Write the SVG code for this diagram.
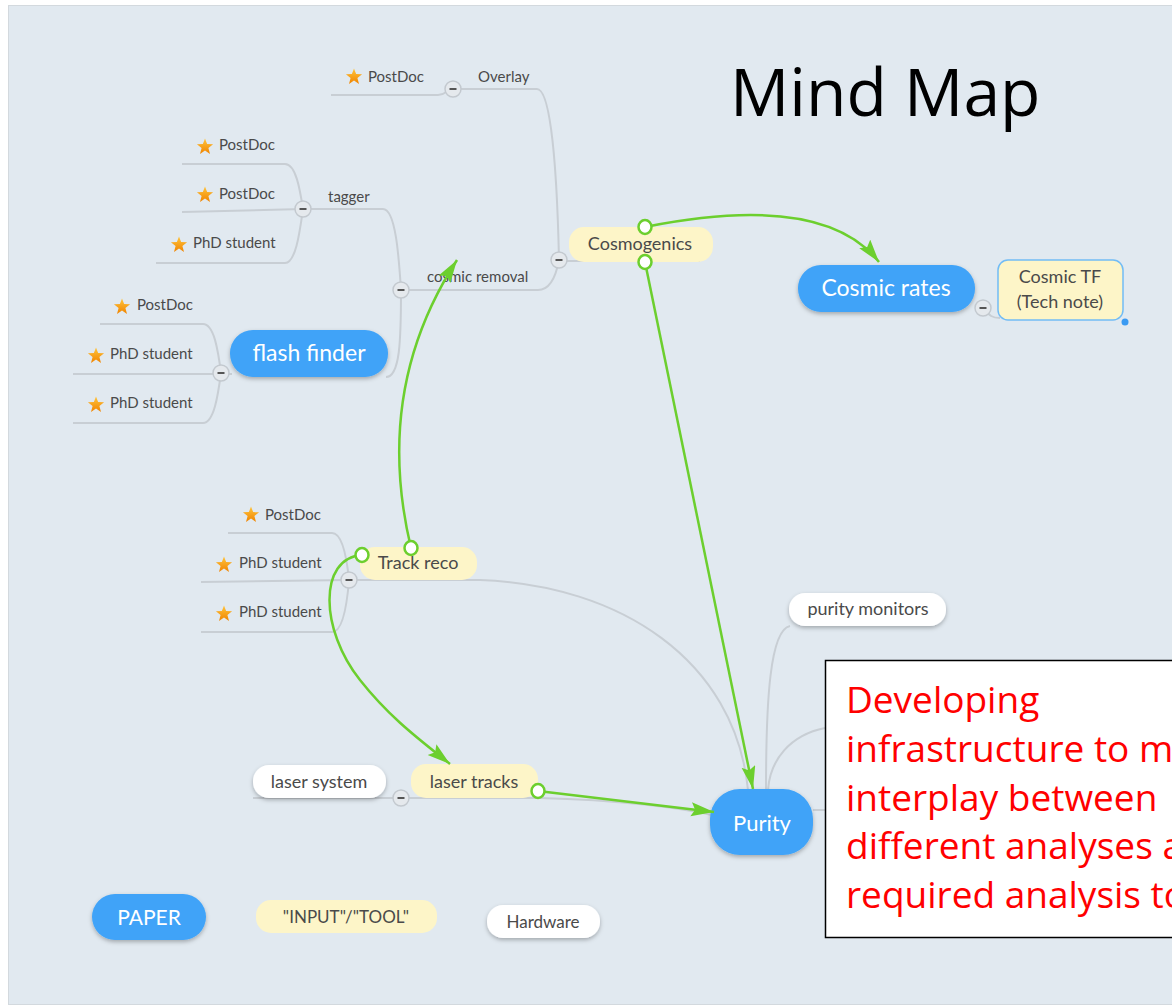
<svg xmlns="http://www.w3.org/2000/svg" xmlns:xlink="http://www.w3.org/1999/xlink" width="1172" height="1005" viewBox="0 0 1172 1005">
  <defs>
    <style>
      .line { fill: none; stroke: #c8ced4; stroke-width: 2; }
      .link { fill: none; stroke: #6ccf2e; stroke-width: 2.5; }
      .port { fill: #ffffff; stroke: #6ccf2e; stroke-width: 2.5; }
      .lbl { font-family: Lato, "Noto Sans", sans-serif; font-size: 15px; fill: #4a4a4a; }
      .ntext { font-family: Lato, "Noto Sans", sans-serif; font-size: 18px; fill: #4a4a4a; text-anchor: middle; }
      .btext { font-family: Lato, "Noto Sans", sans-serif; font-size: 23px; fill: #ffffff; text-anchor: middle; }
      .yellow { fill: #fdf5c8; }
      .white { fill: #ffffff; filter: url(#shadow); }
      .blue { fill: #3fa3f8; filter: url(#shadow); }
      .note { font-family: "Open Sans", "Liberation Sans", sans-serif; font-size: 37px; fill: #ff0000; }
    </style>
    <filter id="shadow" x="-20%" y="-30%" width="140%" height="170%">
      <feDropShadow dx="0" dy="2" stdDeviation="2" flood-color="#000000" flood-opacity="0.28"/>
    </filter>
    <linearGradient id="starFill" x1="0" y1="0" x2="0" y2="1">
      <stop offset="0" stop-color="#ffc53d"/>
      <stop offset="1" stop-color="#f08400"/>
    </linearGradient>
    <path id="star" d="M0,-8.5 L2.12,-2.91 L8.08,-2.63 L3.42,1.11 L5,6.88 L0,3.6 L-5,6.88 L-3.42,1.11 L-8.08,-2.63 L-2.12,-2.91 Z" fill="url(#starFill)"/>
    <g id="fold">
      <circle r="8" fill="#e5e9ed" stroke="#c3c9cf" stroke-width="1.5"/>
      <line x1="-3.5" y1="0" x2="3.5" y2="0" stroke="#555" stroke-width="2"/>
    </g>
    <marker id="arrow" markerUnits="userSpaceOnUse" markerWidth="26" markerHeight="16" refX="23" refY="7" orient="auto">
      <path d="M0,0 L23,7 L0,14 L4,7 Z" fill="#6ccf2e"/>
    </marker>
  </defs>

  <!-- canvas -->
  <rect x="0" y="0" width="1172" height="1005" fill="#ffffff"/>
  <rect x="8.5" y="5.5" width="1164" height="999" fill="#e1e9f0" stroke="#d3d9de" stroke-width="1"/>

  <!-- title -->
  <text x="730" y="116" font-family="'Open Sans', 'Liberation Sans', sans-serif" font-size="66" fill="#000000">Mind Map</text>

  <!-- branch lines -->
  <g id="branches">
    <path class="line" d="M331,95 L438,95 C446,95 447,89 453,89"/>
    <path class="line" d="M461,89 L537,89 C551,89 557,170 559,260"/>
    <path class="line" d="M409,290 L538,290 C550,290 556,276 559,260"/>
    <path class="line" d="M559,261 L700,261"/>
    <path class="line" d="M182,164 L285,164 C296,164 300,190 303,209"/>
    <path class="line" d="M182,212 L303,209"/>
    <path class="line" d="M156,263 L285,263 C296,263 300,230 303,209"/>
    <path class="line" d="M311,209 L383,209 C396,209 399,260 401,290"/>
    <path class="line" d="M401,290 C401,340 400,377 386,377"/>
    <path class="line" d="M100,324 L203,324 C214,324 218,350 221,373"/>
    <path class="line" d="M73,374 L232,374"/>
    <path class="line" d="M73,423 L203,423 C214,423 218,395 221,373"/>
    <path class="line" d="M228,533 L332,533 C343,533 347,560 349,580"/>
    <path class="line" d="M201,582 L349,580"/>
    <path class="line" d="M201,632 L332,632 C343,632 347,605 349,580"/>
    <path class="line" d="M349,580 L480,580 C620,585 735,660 748,790"/>
    <path class="line" d="M253,798 L401,798"/>
    <path class="line" d="M401,798 L540,798 C620,800 680,808 712,815"/>
    <path class="line" d="M790,626 C770,630 766,700 766,790"/>
    <path class="line" d="M825,728 C790,735 770,760 768,790"/>
    <path class="line" d="M813,810 L826,810"/>
    <path class="line" d="M983,308 C990,316 992,318 1000,318"/>
  </g>

  <!-- Cosmogenics branch -->
  <g id="overlay-postdoc">
    <use xlink:href="#star" x="354" y="77"/>
    <text class="lbl" x="368" y="82">PostDoc</text>
  </g>
  <g id="overlay">
    <use xlink:href="#fold" x="453" y="89"/>
    <text class="lbl" x="478" y="82">Overlay</text>
  </g>
  <g id="tagger-postdoc-1">
    <use xlink:href="#star" x="205" y="147"/>
    <text class="lbl" x="219" y="150">PostDoc</text>
  </g>
  <g id="tagger-postdoc-2">
    <use xlink:href="#star" x="205" y="195"/>
    <text class="lbl" x="219" y="199">PostDoc</text>
  </g>
  <g id="tagger-phd">
    <use xlink:href="#star" x="179" y="245"/>
    <text class="lbl" x="193" y="248">PhD student</text>
  </g>
  <g id="tagger">
    <use xlink:href="#fold" x="303" y="209"/>
    <text class="lbl" x="328" y="202">tagger</text>
  </g>
  <g id="cosmic-removal">
    <use xlink:href="#fold" x="401" y="290"/>
    <text class="lbl" x="427" y="282">cosmic removal</text>
  </g>
  <g id="flash-postdoc">
    <use xlink:href="#star" x="122" y="307"/>
    <text class="lbl" x="137" y="310">PostDoc</text>
  </g>
  <g id="flash-phd-1">
    <use xlink:href="#star" x="96" y="356"/>
    <text class="lbl" x="110" y="359">PhD student</text>
  </g>
  <g id="flash-phd-2">
    <use xlink:href="#star" x="96" y="405"/>
    <text class="lbl" x="110" y="408">PhD student</text>
  </g>
  <g id="flash-finder">
    <rect class="blue" x="230" y="330" width="158" height="47" rx="23"/>
    <text class="btext" x="309" y="361">flash finder</text>
    <use xlink:href="#fold" x="221" y="373"/>
  </g>
  <g id="cosmogenics">
    <rect class="yellow" x="569" y="227" width="144" height="35" rx="15"/>
    <text class="ntext" x="640" y="250">Cosmogenics</text>
    <use xlink:href="#fold" x="559" y="260"/>
  </g>
  <g id="cosmic-rates">
    <rect class="blue" x="798" y="265" width="177" height="47" rx="23"/>
    <text class="btext" x="886" y="296">Cosmic rates</text>
    <use xlink:href="#fold" x="983" y="308"/>
  </g>
  <g id="cosmic-tf">
    <rect x="998" y="260" width="125" height="60" rx="10" fill="#fdf5c8" stroke="#72bcf5" stroke-width="1.5"/>
    <text class="ntext" x="1060" y="283">Cosmic TF</text>
    <text class="ntext" x="1060" y="308">(Tech note)</text>
    <circle cx="1125" cy="322" r="3.5" fill="#3a9af2"/>
  </g>

  <!-- Track reco branch -->
  <g id="track-postdoc">
    <use xlink:href="#star" x="251" y="515"/>
    <text class="lbl" x="265" y="520">PostDoc</text>
  </g>
  <g id="track-phd-1">
    <use xlink:href="#star" x="224" y="565"/>
    <text class="lbl" x="239" y="568">PhD student</text>
  </g>
  <g id="track-phd-2">
    <use xlink:href="#star" x="224" y="614"/>
    <text class="lbl" x="239" y="617">PhD student</text>
  </g>
  <g id="track-reco">
    <rect class="yellow" x="360" y="547" width="117" height="33" rx="15"/>
    <text class="ntext" x="418" y="569">Track reco</text>
    <use xlink:href="#fold" x="349" y="580"/>
  </g>

  <!-- Purity branch -->
  <g id="laser-system">
    <rect class="white" x="253" y="765" width="133" height="33" rx="16"/>
    <text class="ntext" x="319" y="788">laser system</text>
  </g>
  <g id="laser-tracks">
    <rect class="yellow" x="411" y="764" width="127" height="34" rx="15"/>
    <text class="ntext" x="474" y="788">laser tracks</text>
    <use xlink:href="#fold" x="401" y="798"/>
  </g>
  <g id="purity-monitors">
    <rect class="white" x="789" y="593" width="157" height="33" rx="16"/>
    <text class="ntext" x="868" y="615">purity monitors</text>
  </g>
  <g id="purity">
    <rect class="blue" x="710" y="789" width="103" height="66" rx="30"/>
    <text class="btext" x="762" y="831" style="font-size:22px">Purity</text>
  </g>

  <!-- cross links -->
  <g id="connectors">
    <path class="link" d="M645,227 C720,212 830,200 879,262" marker-end="url(#arrow)"/>
    <path class="link" d="M645,262 L753,789" marker-end="url(#arrow)"/>
    <path class="link" d="M411,548 C390,460 392,360 457,260" marker-end="url(#arrow)"/>
    <path class="link" d="M362,555 C318,558 320,630 360,680 C390,718 420,740 450,764" marker-end="url(#arrow)"/>
    <path class="link" d="M538,791 L714,812" marker-end="url(#arrow)"/>
    <ellipse class="port" cx="645" cy="227" rx="6.5" ry="7"/>
    <ellipse class="port" cx="645" cy="262" rx="6.5" ry="7"/>
    <ellipse class="port" cx="411" cy="548" rx="6.5" ry="7"/>
    <ellipse class="port" cx="362" cy="555" rx="6.5" ry="7"/>
    <ellipse class="port" cx="538" cy="791" rx="6.5" ry="7"/>
  </g>

  <!-- legend -->
  <g id="legend-paper">
    <rect class="blue" x="92" y="894" width="114" height="46" rx="23"/>
    <text class="btext" x="149" y="925" style="font-size:21px">PAPER</text>
  </g>
  <g id="legend-input">
    <rect class="yellow" x="256" y="900" width="181" height="33" rx="15"/>
    <text class="ntext" x="346" y="923" style="font-size:17px">"INPUT"/"TOOL"</text>
  </g>
  <g id="legend-hardware">
    <rect class="white" x="487" y="905" width="113" height="33" rx="16"/>
    <text class="ntext" x="543" y="928" style="font-size:17px">Hardware</text>
  </g>

  <!-- annotation box, running off the right edge -->
  <g id="note">
    <rect x="825.5" y="660.5" width="360" height="277" fill="#ffffff" stroke="#000000" stroke-width="1.5"/>
    <text class="note" x="846" y="713">Developing</text>
    <text class="note" x="846" y="762">infrastructure to m</text>
    <text class="note" x="846" y="811">interplay between</text>
    <text class="note" x="846" y="859">different analyses a</text>
    <text class="note" x="846" y="908">required analysis to</text>
  </g>
</svg>
